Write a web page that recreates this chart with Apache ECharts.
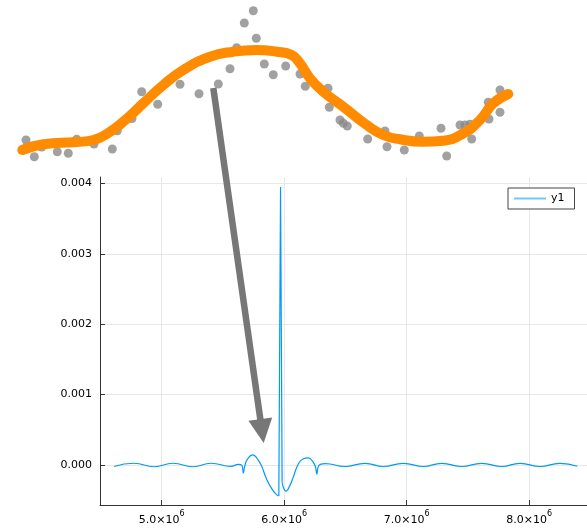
<!DOCTYPE html>
<html>
<head>
<meta charset="utf-8">
<script src="https://cdn.jsdelivr.net/npm/echarts@6/dist/echarts.min.js"></script>
<style>
  html, body { margin: 0; padding: 0; background: #ffffff; }
  #chart { width: 587px; height: 531px; }
</style>
</head>
<body>
<div id="chart"></div>
<script>
// Signal y1: sample positions (x) and amplitudes (y)
const sigX = [
  4.611e6, 4.774e6, 4.937e6, 5.092e6, 5.256e6, 5.402e6, 5.566e6, 5.625e6, 5.655e6,
  5.666e6, 5.679e6, 5.700e6, 5.743e6, 5.775e6, 5.811e6, 5.855e6, 5.898e6, 5.935e6,
  5.956e6, 5.970e6, 5.983e6, 6.015e6, 6.045e6, 6.074e6, 6.112e6, 6.150e6, 6.197e6, 6.235e6,
  6.255e6, 6.266e6, 6.279e6, 6.300e6, 6.334e6, 6.496e6, 6.660e6, 6.809e6, 6.972e6,
  7.136e6, 7.286e6, 7.449e6, 7.612e6, 7.776e6, 7.925e6, 8.088e6, 8.251e6, 8.393e6
];
const sigY = [
  -0.000025, 0.000022, -0.000028, 0.000022, -0.000028, 0.000022, -0.000022, 0.000005, -0.00001,
  -0.000116, -0.00001, 0.00008, 0.000142, 0.0001, 0.0, -0.0002, -0.00034, -0.00042,
  -0.000445, 0.003953, -0.00025, -0.000375, -0.0003, -0.000175, 0.0, 0.00008, 0.000097, 0.00004,
  -0.00003, -0.000132, -0.00002, 0.00001, 0.000018, -0.000024, 0.00002, -0.000024, 0.00002,
  -0.000024, 0.00002, -0.000024, 0.00002, -0.000024, 0.00002, -0.000024, 0.00002, -0.00002
];
// indices of the sharp spike (trough, peak, fall) drawn with straight segments
const spikeFrom = 18;
const spikeTo = 20;

// Axis ticks
const yTicks = [0, 0.001, 0.002, 0.003, 0.004];
const xTicks = [5e6, 6e6, 7e6, 8e6];

// Sketch layer (page units, y grows downward): grey dots, orange trend stroke, arrow
const dotX = [26, 34.3, 41.7, 57.3, 68.3, 76.7, 94, 112.3, 117.3, 132, 141.7, 157.7, 180, 199,
  218.3, 230, 236.7, 244.3, 253.3, 256.3, 264.3, 273.3, 285.7, 300, 305.3, 328, 329.3, 340,
  343.3, 347.3, 367.3, 367.7, 385, 387, 404.3, 419.3, 441, 446.7, 460, 465, 470, 471.7,
  488.3, 489, 500, 500];
const dotY = [140, 156.7, 147, 151.7, 153.3, 139.3, 144, 149, 130.7, 118.5, 91.7, 104.3, 84.3, 93.7,
  84, 68.7, 47.7, 23, 10.7, 38.3, 64, 74.7, 66, 74, 86.3, 88.3, 107.3, 120,
  123.3, 126, 125, 139, 131, 146.7, 150, 136, 128.3, 156, 125, 125, 124.3, 139,
  102.3, 119, 90, 112.3];
const trendX = [22.3, 43.3, 76.7, 93.3, 106.7, 123.3, 143.3, 163.3, 183.3, 210, 233.3, 256.7,
  276.7, 291.7, 300, 310, 323.3, 343.3, 366.7, 383.3, 400, 423.3, 443.3, 463.3, 480, 493.3, 508.3];
const trendY = [150, 144.3, 142, 140, 134, 121.7, 103.3, 85, 70, 56.7, 51.7, 50,
  51.7, 55, 63.3, 78.3, 91.7, 106.7, 125, 135, 139.3, 141.7, 140.7, 133.3, 120, 103.3, 94];
const arrowFrom = [213.3, 88];
const arrowTo = [262, 431];

const zip = (a, b) => a.map((v, i) => [v, b[i]]);

// smooth part: everything except the spike's peak, with a gap across the spike
const smoothData = zip(sigX, sigY).map((p, i) => (i > spikeFrom && i < spikeTo ? '-' : p));
const spikeData = zip(sigX, sigY).slice(spikeFrom, spikeTo + 1);

const FONT = 'DejaVu Sans';
const BLUE = '#009afa';
const chart = echarts.init(document.getElementById('chart'), null, { renderer: 'canvas' });

chart.setOption({
  animation: false,
  backgroundColor: '#ffffff',
  textStyle: { fontFamily: FONT },
  legend: {
    data: ['y1'],
    left: 508,
    top: 188,
    orient: 'vertical',
    padding: [5, 10, 5, 6],
    borderColor: '#444',
    borderWidth: 1,
    borderRadius: 0,
    backgroundColor: '#ffffff',
    icon: 'rect',
    itemWidth: 32,
    itemHeight: 2,
    itemGap: 0,
    itemStyle: { color: '#6ec8ff' },
    textStyle: { fontFamily: FONT, fontSize: 11, color: '#000' }
  },
  grid: [
    { left: 100, top: 177, right: 0, bottom: 26, containLabel: false },
    { left: 0, top: 0, right: 0, bottom: 0, containLabel: false }
  ],
  xAxis: [
    {
      type: 'value', gridIndex: 0, min: 4.496e6, max: 8.472e6,
      axisLine: { show: true, onZero: false, lineStyle: { color: '#333', width: 1 } },
      axisTick: { show: true, inside: true, length: 5, customValues: xTicks, lineStyle: { color: '#333' } },
      splitLine: { show: true, lineStyle: { color: '#e8e8e8', width: 1 } },
      axisLabel: {
        customValues: xTicks,
        margin: 5,
        formatter: v => '{m|' + (v / 1e6).toFixed(1) + '×10}{s|6}',
        rich: {
          m: { fontFamily: FONT, fontSize: 11, color: '#000', lineHeight: 20 },
          s: { fontFamily: FONT, fontSize: 8, color: '#000', lineHeight: 8, verticalAlign: 'top' }
        }
      }
    },
    { type: 'value', gridIndex: 1, min: 0, max: 587, show: false }
  ],
  yAxis: [
    {
      type: 'value', gridIndex: 0, min: -0.000572, max: 0.004094,
      axisLine: { show: true, onZero: false, lineStyle: { color: '#333', width: 1 } },
      axisTick: { show: true, inside: true, length: 5, customValues: yTicks, lineStyle: { color: '#333' } },
      splitLine: { show: true, lineStyle: { color: '#e8e8e8', width: 1 } },
      axisLabel: {
        customValues: yTicks,
        margin: 8,
        fontFamily: FONT, fontSize: 11, color: '#000',
        formatter: v => v.toFixed(3)
      }
    },
    { type: 'value', gridIndex: 1, min: 0, max: 531, inverse: true, show: false }
  ],
  series: [
    {
      name: 'y1',
      type: 'line',
      xAxisIndex: 0, yAxisIndex: 0,
      data: smoothData,
      connectNulls: false,
      smooth: 0.5,
      symbol: 'none',
      lineStyle: { color: BLUE, width: 1.2 },
      itemStyle: { color: BLUE },
      z: 3
    },
    {
      name: 'y1',
      type: 'line',
      xAxisIndex: 0, yAxisIndex: 0,
      data: spikeData,
      smooth: false,
      symbol: 'none',
      lineStyle: { color: BLUE, width: 1.2 },
      itemStyle: { color: BLUE },
      z: 3
    },
    {
      name: 'dots',
      type: 'scatter',
      xAxisIndex: 1, yAxisIndex: 1,
      data: zip(dotX, dotY),
      symbolSize: 9,
      itemStyle: { color: '#8a8a8a' },
      z: 5
    },
    {
      name: 'trend',
      type: 'line',
      xAxisIndex: 1, yAxisIndex: 1,
      data: zip(trendX, trendY),
      smooth: 0.5,
      symbol: 'none',
      lineStyle: { color: '#ff8c00', width: 10, cap: 'round', join: 'round' },
      z: 6
    },
    {
      name: 'arrow',
      type: 'lines',
      coordinateSystem: 'cartesian2d',
      xAxisIndex: 1, yAxisIndex: 1,
      symbol: ['none', 'triangle'],
      symbolSize: [24, 24],
      lineStyle: { color: '#777777', width: 6.5, opacity: 1, curveness: 0 },
      data: [{ coords: [arrowFrom, arrowTo] }],
      z: 7
    }
  ]
});
</script>
</body>
</html>
